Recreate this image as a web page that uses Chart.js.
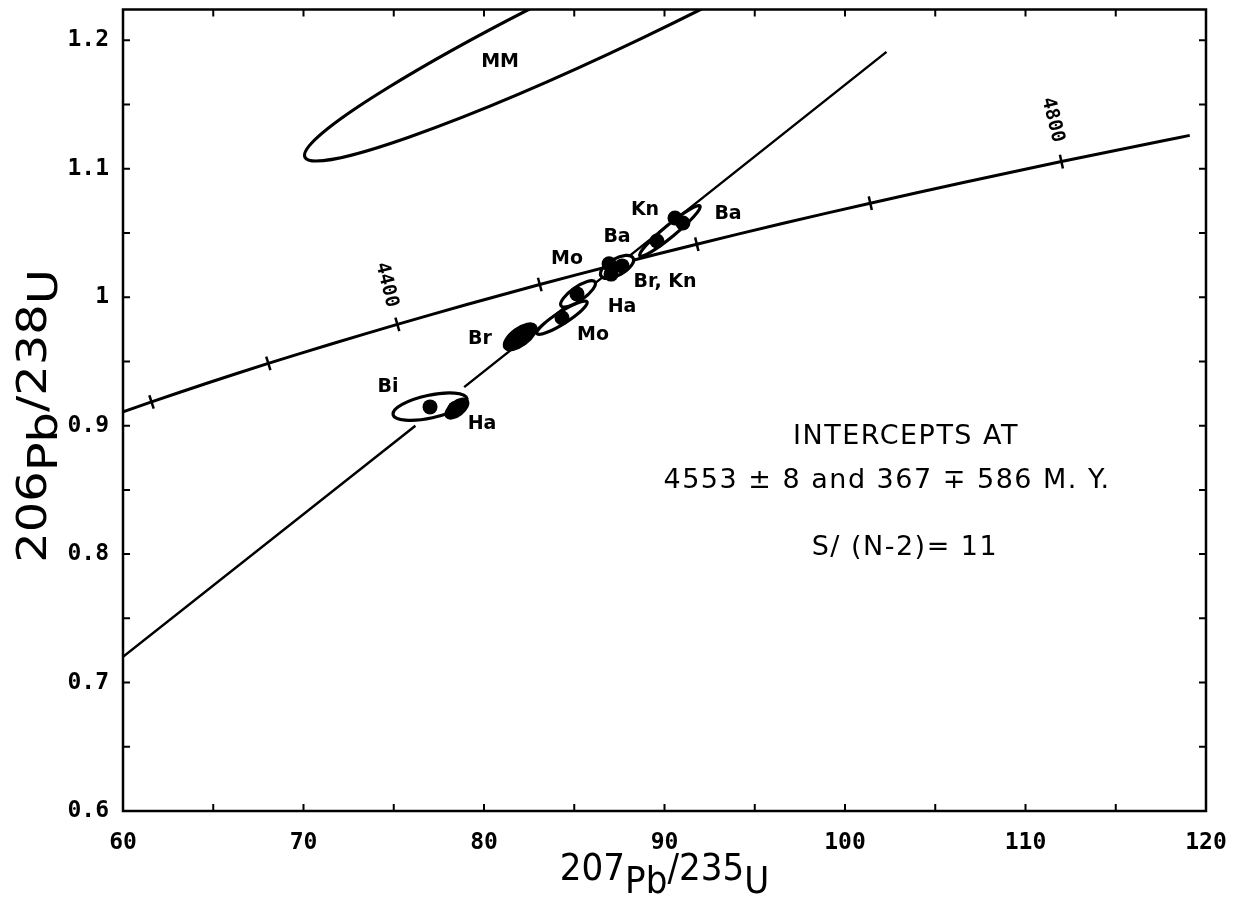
<!DOCTYPE html>
<html><head><meta charset="utf-8">
<script src="https://cdn.jsdelivr.net/npm/chart.js@4.4.1/dist/chart.umd.min.js"></script>
<style>html,body{margin:0;padding:0;background:#fff;}canvas{display:block;}</style>
</head><body>
<canvas id="c" width="1236" height="909"></canvas>
<script>
// ---- axis ticks ----
const xTicks = [60, 70, 80, 90, 100, 110, 120];
const xTickLabels = ['60', '70', '80', '90', '100', '110', '120'];
const xMinorTicks = [60, 65, 70, 75, 80, 85, 90, 95, 100, 105, 110, 115, 120];
const yTicks = [0.6, 0.7, 0.8, 0.9, 1.0, 1.1, 1.2];
const yTickLabels = ['0.6', '0.7', '0.8', '0.9', '1', '1.1', '1.2'];
const yMinorTicks = [0.6, 0.65, 0.7, 0.75, 0.8, 0.85, 0.9, 0.95, 1.0, 1.05, 1.1, 1.15, 1.2];

// ---- concordia curve (207Pb/235U , 206Pb/238U) ----
const concordiaX = [60.00, 61.58, 64.73, 68.05, 71.54, 75.20, 79.05, 83.09, 87.33, 91.79, 96.47, 101.40, 106.56, 111.99, 117.70, 119.10];
const concordiaY = [0.9107, 0.9185, 0.9334, 0.9485, 0.9636, 0.9789, 0.9943, 1.0099, 1.0255, 1.0413, 1.0572, 1.0732, 1.0893, 1.1056, 1.1220, 1.1260];
// age tick marks on the concordia (4200 ... 4800 M.Y.)
const ageTickX = [61.58, 68.05, 75.20, 83.09, 91.79, 101.40, 111.99];
const ageTickY = [0.9185, 0.9485, 0.9789, 1.0099, 1.0413, 1.0732, 1.1056];
const ageLabels = ['4400', '4800'];
const ageLabelX = [74.6, 111.5];
const ageLabelY = [1.0096, 1.138];

// ---- discordia line (null = gap) ----
const discordiaX = [60.0, 76.2, 77.5, 78.9, 102.3];
const discordiaY = [0.720, 0.900, null, 0.930, 1.191];

// ---- error ellipses: centre, end of major axis, minor/major ratio ----
const ellipseNames = ['MM', 'Bi', 'Ha', 'Br', 'Mo', 'Ha', 'Ba/Br/Kn', 'Kn/Ba'];
const ellipseCX = [87.80, 77.01, 78.50, 82.00, 84.32, 85.21, 87.37, 90.30];
const ellipseCY = [1.228, 0.9148, 0.9133, 0.9692, 0.9840, 1.0026, 1.0236, 1.0516];
const ellipseEX = [70.08, 74.96, 79.06, 82.83, 85.71, 86.15, 88.26, 91.97];
const ellipseEY = [1.109, 0.9086, 0.9195, 0.9778, 0.9964, 1.0119, 1.0306, 1.0710];
const ellipseRatio = [0.107, 0.30, 0.50, 0.45, 0.20, 0.33, 0.45, 0.15];

// ---- data points (black dots) ----
const pointX = [77.01, 78.40, 82.00, 84.32, 85.15, 86.93, 87.04, 87.65, 89.58, 90.58, 91.02];
const pointY = [0.9146, 0.9133, 0.9692, 0.9840, 1.0026, 1.0260, 1.0180, 1.0244, 1.0438, 1.0617, 1.0578];

// ---- sample labels ----
const sampleLabels = ['MM', 'Bi', 'Ha', 'Br', 'Mo', 'Ha', 'Mo', 'Ba', 'Br, Kn', 'Kn', 'Ba'];
const sampleLabelX = [80.89, 74.68, 79.89, 79.78, 86.04, 87.65, 84.6, 87.37, 90.03, 88.92, 93.52];
const sampleLabelY = [1.183, 0.930, 0.9016, 0.9677, 0.9708, 0.9925, 1.0298, 1.047, 1.012, 1.068, 1.065];

// ---- annotation text ----
const noteLines = ['INTERCEPTS AT', '4553 \u00B1 8 and 367 \u2213 586 M. Y.', 'S/ (N-2)= 11'];
const noteX = [103.38, 102.33, 103.32];
const noteY = [0.8915, 0.8566, 0.8045];

const xTitleParts = ['207', 'Pb', '/', '235', 'U'];
const yTitleParts = ['206', 'Pb', '/', '238', 'U'];

const zip = (xs, ys) => xs.map((x, i) => ({x: x, y: ys[i]}));

const framePlugin = {
  id: 'frame',
  afterDatasetsDraw(chart) {
    const {ctx, chartArea: a, scales: {x, y}} = chart;
    ctx.save();
    ctx.strokeStyle = '#000';
    ctx.lineWidth = 2.5;
    ctx.strokeRect(a.left, a.top, a.right - a.left, a.bottom - a.top);
    ctx.lineWidth = 2;
    const L = 7;
    ctx.beginPath();
    xMinorTicks.forEach(v => {
      const p = x.getPixelForValue(v);
      ctx.moveTo(p, a.bottom); ctx.lineTo(p, a.bottom - L);
      ctx.moveTo(p, a.top); ctx.lineTo(p, a.top + L);
    });
    yMinorTicks.forEach(v => {
      const p = y.getPixelForValue(v);
      if (p < a.top) return;
      ctx.moveTo(a.left, p); ctx.lineTo(a.left + L, p);
      ctx.moveTo(a.right, p); ctx.lineTo(a.right - L, p);
    });
    ctx.stroke();
    ctx.restore();
  }
};

const ellipsePlugin = {
  id: 'ellipses',
  beforeDatasetDraw(chart, args) {
    if (args.index !== 0) return;
    const {ctx, chartArea: a, scales: {x, y}} = chart;
    const filled = {2: true, 3: true};
    ctx.save();
    ctx.beginPath();
    ctx.rect(a.left, a.top, a.right - a.left, a.bottom - a.top);
    ctx.clip();
    ellipseNames.forEach((n, i) => {
      const cx = x.getPixelForValue(ellipseCX[i]), cy = y.getPixelForValue(ellipseCY[i]);
      const ex = x.getPixelForValue(ellipseEX[i]), ey = y.getPixelForValue(ellipseEY[i]);
      const ra = Math.hypot(ex - cx, ey - cy);
      const rb = ra * ellipseRatio[i];
      const ang = Math.atan2(ey - cy, ex - cx);
      ctx.beginPath();
      ctx.ellipse(cx, cy, ra, rb, ang, 0, Math.PI * 2);
      ctx.fillStyle = filled[i] ? '#000' : '#fff';
      ctx.fill();
      ctx.lineWidth = 3.2;
      ctx.strokeStyle = '#000';
      ctx.stroke();
    });
    ctx.restore();
  }
};

const textPlugin = {
  id: 'texts',
  afterDraw(chart) {
    const {ctx, chartArea: a, scales: {x, y}} = chart;
    ctx.save();
    ctx.fillStyle = '#000';
    ctx.textAlign = 'center';
    ctx.textBaseline = 'middle';
    ctx.font = "bold 19px 'DejaVu Sans'";
    sampleLabels.forEach((t, i) => {
      ctx.fillText(t, x.getPixelForValue(sampleLabelX[i]), y.getPixelForValue(sampleLabelY[i]));
    });
    ctx.font = "bold 19px 'DejaVu Sans Mono'";
    ageLabels.forEach((t, i) => {
      ctx.save();
      ctx.translate(x.getPixelForValue(ageLabelX[i]), y.getPixelForValue(ageLabelY[i]));
      ctx.rotate(76 * Math.PI / 180);
      ctx.fillText(t, 0, 0);
      ctx.restore();
    });
    ctx.font = "27px 'DejaVu Sans'";
    if ('letterSpacing' in ctx) ctx.letterSpacing = '1.5px';
    noteLines.forEach((t, i) => {
      ctx.fillText(t, x.getPixelForValue(noteX[i]), y.getPixelForValue(noteY[i]));
    });
    if ('letterSpacing' in ctx) ctx.letterSpacing = '0px';

    // axis titles with isotope notation
    const drawTitle = (parts, size, drop, stretch) => {
      ctx.font = size + "px 'DejaVu Sans Condensed', 'DejaVu Sans'";
      ctx.scale(stretch, 1);
      const widths = parts.map(p => ctx.measureText(p).width);
      const total = widths.reduce((s, w) => s + w, 0);
      let cx = -total / 2;
      ctx.textAlign = 'left';
      ctx.textBaseline = 'alphabetic';
      parts.forEach((p, i) => {
        const low = /^[A-Za-z]+$/.test(p) ? size * drop : 0;
        ctx.fillText(p, cx, low);
        cx += widths[i];
      });
    };
    ctx.save();
    ctx.translate((a.left + a.right) / 2, 880);
    drawTitle(xTitleParts, 38, 0.33, 1);
    ctx.restore();
    ctx.save();
    ctx.translate(46, 416);
    ctx.rotate(-Math.PI / 2);
    drawTitle(yTitleParts, 41, 0.27, 1.3);
    ctx.restore();
    ctx.restore();
  }
};

const tickFont = {family: "'DejaVu Sans Mono'", size: 23, weight: 'bold'};

new Chart(document.getElementById('c'), {
  type: 'line',
  data: {
    datasets: [
      { // 0: data points (drawn on top)
        data: zip(pointX, pointY), showLine: false,
        pointRadius: 7.5, pointBackgroundColor: '#000', pointBorderColor: '#000', pointBorderWidth: 0
      },
      { // 1: age ticks on concordia
        data: zip(ageTickX, ageTickY), showLine: false,
        pointStyle: 'line', pointRadius: 7, pointBorderWidth: 2.5, pointBorderColor: '#000',
        pointRotation: (ctx) => {
          const ch = ctx.chart, sx = ch.scales.x, sy = ch.scales.y, i = ctx.dataIndex;
          if (!sx || !sy || i === undefined) return 75;
          const i0 = Math.max(0, i - 1), i1 = Math.min(ageTickX.length - 1, i + 1);
          const dx = sx.getPixelForValue(ageTickX[i1]) - sx.getPixelForValue(ageTickX[i0]);
          const dy = sy.getPixelForValue(ageTickY[i1]) - sy.getPixelForValue(ageTickY[i0]);
          return Math.atan2(dy, dx) * 180 / Math.PI + 90;
        }
      },
      { // 2: concordia
        data: zip(concordiaX, concordiaY), borderColor: '#000', borderWidth: 3,
        pointRadius: 0, tension: 0.3, fill: false
      },
      { // 3: discordia
        data: zip(discordiaX, discordiaY), borderColor: '#000', borderWidth: 2.5,
        pointRadius: 0, tension: 0, spanGaps: false, fill: false
      }
    ]
  },
  options: {
    responsive: false, animation: false, devicePixelRatio: 1,
    layout: {padding: {top: 7, right: 30, left: 0, bottom: 0}},
    plugins: {legend: {display: false}, tooltip: {enabled: false}},
    scales: {
      x: {
        type: 'linear', min: 60, max: 120,
        grid: {display: false}, border: {display: false},
        afterBuildTicks: s => { s.ticks = xTicks.map(v => ({value: v})); },
        afterFit: s => { s.height = 98; s.paddingLeft = 0; s.paddingRight = 0; },
        ticks: {autoSkip: false, maxRotation: 0, padding: 10, color: '#000', font: tickFont,
                callback: (v, i) => xTickLabels[i]}
      },
      y: {
        type: 'linear', min: 0.6, max: 1.224,
        grid: {display: false}, border: {display: false},
        afterBuildTicks: s => { s.ticks = yTicks.map(v => ({value: v})); },
        afterFit: s => { s.width = 123; s.paddingTop = 0; s.paddingBottom = 0; },
        ticks: {autoSkip: false, padding: 6, color: '#000', font: tickFont,
                callback: (v, i) => yTickLabels[i]}
      }
    }
  },
  plugins: [ellipsePlugin, framePlugin, textPlugin]
});
</script>
</body></html>
